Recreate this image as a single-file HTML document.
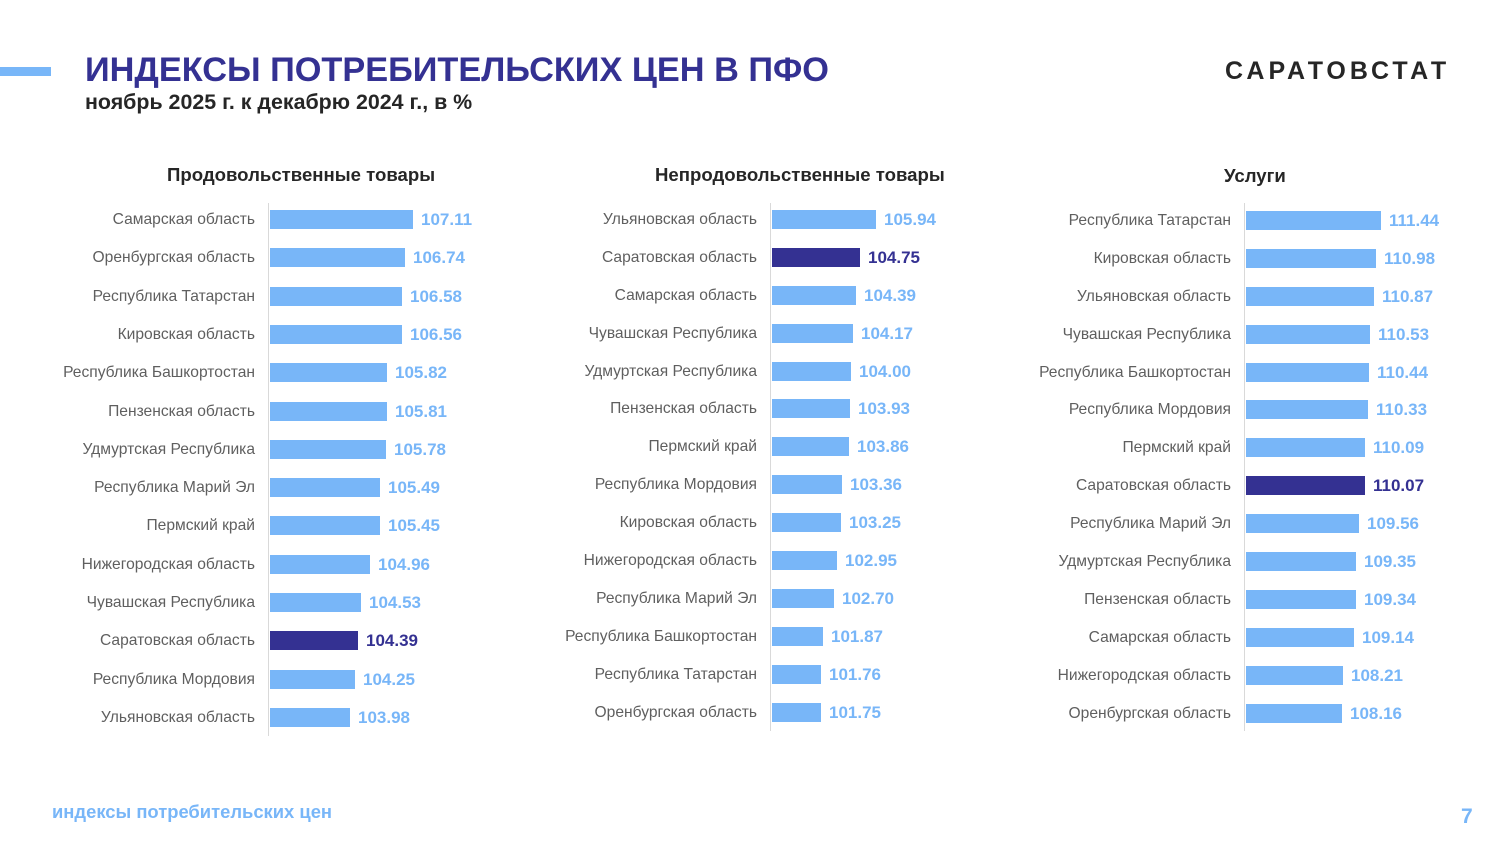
<!DOCTYPE html>
<html><head><meta charset="utf-8"><style>
*{margin:0;padding:0;box-sizing:border-box}
body{width:1500px;height:844px;background:#fff;position:relative;overflow:hidden;font-family:"Liberation Sans",Arial,sans-serif}
.a{position:absolute}
.ax{position:absolute;width:1px;background:#d9d9d9}
.r{position:absolute;width:0;height:19px}
.r span{position:absolute;right:13px;top:0;line-height:19px;font-size:15.6px;color:#5f5f5f;white-space:nowrap}
.r i{position:absolute;left:2px;top:0;height:19px;background:#78b6f8}
.r b{position:absolute;top:0;line-height:20px;font-size:17px;color:#78b6f8;white-space:nowrap}
.r.d i{background:#343192}
.r.d b{color:#343192}
h2{position:absolute;font-size:18.6px;font-weight:bold;color:#262626;white-space:nowrap}
</style></head><body>
<div class="a" style="left:0;top:67px;width:51px;height:9px;background:#78b6f8"></div>
<div class="a" style="left:85px;top:51px;font-size:34.3px;font-weight:bold;color:#343192;white-space:nowrap">ИНДЕКСЫ ПОТРЕБИТЕЛЬСКИХ ЦЕН В ПФО</div>
<div class="a" style="left:85px;top:90px;font-size:21.4px;font-weight:bold;color:#262626;white-space:nowrap">ноябрь 2025 г. к декабрю 2024 г., в %</div>
<div class="a" style="left:1225px;top:57px;font-size:25px;font-weight:bold;color:#262626;letter-spacing:4px;white-space:nowrap">САРАТОВСТАТ</div>
<div class="a" style="left:52px;top:801px;font-size:18.4px;font-weight:bold;color:#78b6f8;white-space:nowrap">индексы потребительских цен</div>
<div class="a" style="left:1461px;top:805px;font-size:21px;font-weight:bold;color:#78b6f8">7</div>

<h2 style="left:167px;top:164px">Продовольственные товары</h2>
<h2 style="left:655px;top:164px">Непродовольственные товары</h2>
<h2 style="left:1224px;top:165px">Услуги</h2>

<div class="ax" style="left:268px;top:203px;height:533px"></div>
<div class="ax" style="left:770px;top:203px;height:528px"></div>
<div class="ax" style="left:1244px;top:203px;height:528px"></div>

<!-- Panel 1 -->
<div class="a" style="left:268px;top:0">
<div class="r" style="top:210px"><span>Самарская область</span><i style="width:143px"></i><b style="left:153px">107.11</b></div>
<div class="r" style="top:248px"><span>Оренбургская область</span><i style="width:135px"></i><b style="left:145px">106.74</b></div>
<div class="r" style="top:287px"><span>Республика Татарстан</span><i style="width:132px"></i><b style="left:142px">106.58</b></div>
<div class="r" style="top:325px"><span>Кировская область</span><i style="width:132px"></i><b style="left:142px">106.56</b></div>
<div class="r" style="top:363px"><span>Республика Башкортостан</span><i style="width:117px"></i><b style="left:127px">105.82</b></div>
<div class="r" style="top:402px"><span>Пензенская область</span><i style="width:117px"></i><b style="left:127px">105.81</b></div>
<div class="r" style="top:440px"><span>Удмуртская Республика</span><i style="width:116px"></i><b style="left:126px">105.78</b></div>
<div class="r" style="top:478px"><span>Республика Марий Эл</span><i style="width:110px"></i><b style="left:120px">105.49</b></div>
<div class="r" style="top:516px"><span>Пермский край</span><i style="width:110px"></i><b style="left:120px">105.45</b></div>
<div class="r" style="top:555px"><span>Нижегородская область</span><i style="width:100px"></i><b style="left:110px">104.96</b></div>
<div class="r" style="top:593px"><span>Чувашская Республика</span><i style="width:91px"></i><b style="left:101px">104.53</b></div>
<div class="r d" style="top:631px"><span>Саратовская область</span><i style="width:88px"></i><b style="left:98px">104.39</b></div>
<div class="r" style="top:670px"><span>Республика Мордовия</span><i style="width:85px"></i><b style="left:95px">104.25</b></div>
<div class="r" style="top:708px"><span>Ульяновская область</span><i style="width:80px"></i><b style="left:90px">103.98</b></div>
</div>

<!-- Panel 2 -->
<div class="a" style="left:770px;top:0">
<div class="r" style="top:210px"><span>Ульяновская область</span><i style="width:104px"></i><b style="left:114px">105.94</b></div>
<div class="r d" style="top:248px"><span>Саратовская область</span><i style="width:88px"></i><b style="left:98px">104.75</b></div>
<div class="r" style="top:286px"><span>Самарская область</span><i style="width:84px"></i><b style="left:94px">104.39</b></div>
<div class="r" style="top:324px"><span>Чувашская Республика</span><i style="width:81px"></i><b style="left:91px">104.17</b></div>
<div class="r" style="top:362px"><span>Удмуртская Республика</span><i style="width:79px"></i><b style="left:89px">104.00</b></div>
<div class="r" style="top:399px"><span>Пензенская область</span><i style="width:78px"></i><b style="left:88px">103.93</b></div>
<div class="r" style="top:437px"><span>Пермский край</span><i style="width:77px"></i><b style="left:87px">103.86</b></div>
<div class="r" style="top:475px"><span>Республика Мордовия</span><i style="width:70px"></i><b style="left:80px">103.36</b></div>
<div class="r" style="top:513px"><span>Кировская область</span><i style="width:69px"></i><b style="left:79px">103.25</b></div>
<div class="r" style="top:551px"><span>Нижегородская область</span><i style="width:65px"></i><b style="left:75px">102.95</b></div>
<div class="r" style="top:589px"><span>Республика Марий Эл</span><i style="width:62px"></i><b style="left:72px">102.70</b></div>
<div class="r" style="top:627px"><span>Республика Башкортостан</span><i style="width:51px"></i><b style="left:61px">101.87</b></div>
<div class="r" style="top:665px"><span>Республика Татарстан</span><i style="width:49px"></i><b style="left:59px">101.76</b></div>
<div class="r" style="top:703px"><span>Оренбургская область</span><i style="width:49px"></i><b style="left:59px">101.75</b></div>
</div>

<!-- Panel 3 -->
<div class="a" style="left:1244px;top:0">
<div class="r" style="top:211px"><span>Республика Татарстан</span><i style="width:135px"></i><b style="left:145px">111.44</b></div>
<div class="r" style="top:249px"><span>Кировская область</span><i style="width:130px"></i><b style="left:140px">110.98</b></div>
<div class="r" style="top:287px"><span>Ульяновская область</span><i style="width:128px"></i><b style="left:138px">110.87</b></div>
<div class="r" style="top:325px"><span>Чувашская Республика</span><i style="width:124px"></i><b style="left:134px">110.53</b></div>
<div class="r" style="top:363px"><span>Республика Башкортостан</span><i style="width:123px"></i><b style="left:133px">110.44</b></div>
<div class="r" style="top:400px"><span>Республика Мордовия</span><i style="width:122px"></i><b style="left:132px">110.33</b></div>
<div class="r" style="top:438px"><span>Пермский край</span><i style="width:119px"></i><b style="left:129px">110.09</b></div>
<div class="r d" style="top:476px"><span>Саратовская область</span><i style="width:119px"></i><b style="left:129px">110.07</b></div>
<div class="r" style="top:514px"><span>Республика Марий Эл</span><i style="width:113px"></i><b style="left:123px">109.56</b></div>
<div class="r" style="top:552px"><span>Удмуртская Республика</span><i style="width:110px"></i><b style="left:120px">109.35</b></div>
<div class="r" style="top:590px"><span>Пензенская область</span><i style="width:110px"></i><b style="left:120px">109.34</b></div>
<div class="r" style="top:628px"><span>Самарская область</span><i style="width:108px"></i><b style="left:118px">109.14</b></div>
<div class="r" style="top:666px"><span>Нижегородская область</span><i style="width:97px"></i><b style="left:107px">108.21</b></div>
<div class="r" style="top:704px"><span>Оренбургская область</span><i style="width:96px"></i><b style="left:106px">108.16</b></div>
</div>
</body></html>
